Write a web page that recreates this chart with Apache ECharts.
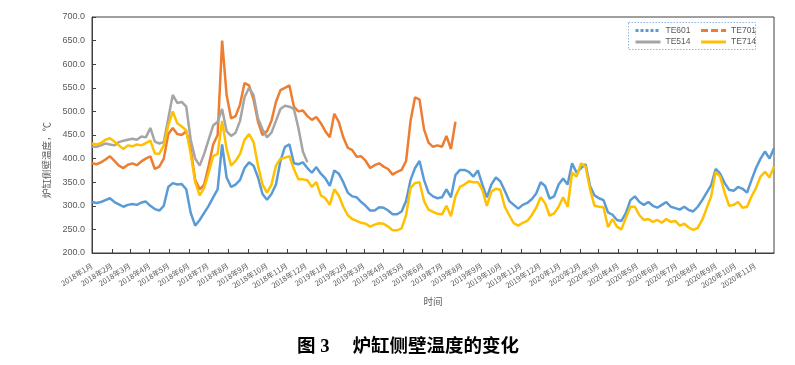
<!DOCTYPE html>
<html><head><meta charset="utf-8">
<script src="https://cdn.jsdelivr.net/npm/echarts@6/dist/echarts.min.js"></script>
<style>html,body{margin:0;padding:0;background:#fff}#c{width:795px;height:365px}</style>
</head><body><div id="c"></div>
<script>
// Daily date axis, values sampled weekly (every 7 days from startDate)
const startDate = '2018-01-01';
const endDate = '2020-11-30';
const sampleStepDays = 7;

const seriesNames = ['TE601', 'TE701', 'TE514', 'TE714'];
const seriesColors = ['#5b9bd5', '#ed7d31', '#a5a5a5', '#ffc000'];

const te601 = [
  308, 306, 308, 312, 316, 308, 303, 298, 302, 304,
  302, 307, 309, 300, 293, 290, 300, 340, 348, 345,
  346, 335, 285, 258, 270, 285, 300, 318, 335, 430,
  360, 340, 345, 355, 380, 392, 385, 360, 325, 313,
  325, 345, 395, 425, 430, 390, 388, 392, 380, 370,
  382, 368, 358, 342, 375, 368, 350, 328, 320, 318,
  308, 300, 290, 290, 297, 296, 290, 282, 282, 288,
  310, 355, 380, 395, 355, 328, 320, 316, 318, 335,
  318, 365, 376, 376, 372, 362, 375, 345, 318, 345,
  360, 352, 332, 310, 302, 294, 302, 306, 314, 326,
  350, 342, 315, 320, 345, 358, 345, 390, 370, 380,
  388, 342, 322, 316, 312, 286, 281, 270, 268, 285,
  312, 320, 308, 302, 308, 300, 296, 302, 308, 298,
  295, 292, 298, 291, 288, 298, 312, 328, 344, 378,
  368, 348, 334, 332, 340, 336, 328, 355, 380, 400,
  415, 400, 422
];
const te701 = [
  390, 388, 392, 398, 405, 395, 385, 380, 387, 390,
  386, 394, 400, 405, 378, 383, 400, 452, 465, 452,
  450, 458, 420, 355, 335, 345, 385, 430, 450, 650,
  535, 485, 490, 515, 560, 555, 525, 478, 450, 458,
  480, 520, 545, 550, 555, 510, 500, 502, 490, 482,
  488, 475, 458, 445, 495, 478, 445, 423, 418, 404,
  405, 395, 380, 386, 390, 383, 378, 366, 372, 376,
  395, 480, 530, 525, 462, 434, 425, 428, 425, 448,
  420, 478
];
const te514 = [
  425, 425, 428, 432, 430, 428, 435, 438, 440, 442,
  440, 447, 445, 465, 436, 432, 435, 485, 535, 518,
  520, 510, 440, 400, 385, 410, 440, 470, 478, 505,
  458, 448, 455, 480, 530, 550, 535, 485, 462, 445,
  455, 480, 505, 512, 510, 505, 465, 415, 392
];
const te714 = [
  432, 430, 433, 440, 443, 436, 428, 420, 428, 426,
  430, 428, 433, 438, 411, 410, 428, 470, 500, 475,
  468, 460, 410, 350, 322, 338, 370, 405, 410, 480,
  420, 385, 395, 410, 440, 452, 435, 385, 345, 328,
  345, 385, 400, 402, 405, 378, 356, 356, 354, 340,
  350, 322, 316, 302, 335, 322, 298, 280, 272, 268,
  264, 262, 256, 260, 263, 262, 256, 248, 248, 252,
  280, 338, 348, 350, 310, 292, 287, 283, 282, 300,
  278, 320, 340, 345, 352, 350, 350, 334, 300, 330,
  336, 334, 298, 280, 263, 258, 264, 268, 280, 296,
  318, 305, 279, 284, 298, 318, 298, 370, 362, 390,
  383, 335, 300, 298, 297, 255, 272, 256, 250, 275,
  298, 298, 280, 270, 272, 266, 270, 264, 272, 266,
  268, 258, 262, 254, 249, 253, 270, 295, 320, 372,
  362, 328, 300, 302, 308, 296, 298, 320, 338, 362,
  372, 360, 383
];
const seriesValues = [te601, te701, te514, te714];

const yMin = 200, yMax = 700, yStep = 50;
const yAxisName = '炉缸侧壁温度，℃';
const xAxisName = '时间';
const chartTitle = '图 3\u3000 炉缸侧壁温度的变化';

function pad(n) { return String(n).padStart(2, '0'); }
function buildDays(a, b) {
  const out = [];
  const p = s => s.split('-').map(Number);
  const [y0, m0, d0] = p(a), [y1, m1, d1] = p(b);
  let t = Date.UTC(y0, m0 - 1, d0);
  const end = Date.UTC(y1, m1 - 1, d1);
  while (t <= end) {
    const d = new Date(t);
    out.push(d.getUTCFullYear() + '-' + pad(d.getUTCMonth() + 1) + '-' + pad(d.getUTCDate()));
    t += 86400000;
  }
  return out;
}
const days = buildDays(startDate, endDate);
const isMonthStart = (i, v) => v.slice(8) === '01';

const chart = echarts.init(document.getElementById('c'), null, { renderer: 'canvas' });
const gray = '#595959';
const axisColor = '#404040';
const hiddenSymbol = { color: 'rgba(0,0,0,0)', borderWidth: 0, opacity: 0 };

chart.setOption({
  animation: false,
  backgroundColor: '#ffffff',
  title: {
    text: chartTitle,
    left: 297, top: 338, padding: 0,
    textStyle: { fontSize: 18.5, fontWeight: 'bold', color: '#000', fontFamily: "'Liberation Serif','Noto Sans CJK SC'" }
  },
  grid: { left: 92, right: 21, top: 17, bottom: 112, show: true, borderColor: axisColor, borderWidth: 1, backgroundColor: 'transparent' },
  legend: [
    {
      left: 634, top: 26, padding: 0, itemWidth: 25, itemHeight: 8, itemGap: 9,
      textStyle: { fontSize: 8.5, color: gray, fontFamily: "'Liberation Sans'" },
      itemStyle: hiddenSymbol,
      data: [
        { name: 'TE601', itemStyle: hiddenSymbol, lineStyle: { type: [3, 2], width: 3 } },
        { name: 'TE701', itemStyle: hiddenSymbol, lineStyle: { type: [7, 3], width: 3 } }
      ]
    },
    {
      left: 634, top: 37.5, padding: 0, itemWidth: 25, itemHeight: 8, itemGap: 9,
      textStyle: { fontSize: 8.5, color: gray, fontFamily: "'Liberation Sans'" },
      itemStyle: hiddenSymbol,
      data: [
        { name: 'TE514', itemStyle: hiddenSymbol, lineStyle: { width: 3 } },
        { name: 'TE714', itemStyle: hiddenSymbol, lineStyle: { width: 3 } }
      ]
    }
  ],
  graphic: [
    { type: 'rect', shape: { x: 628.5, y: 22.5, width: 127, height: 27 },
      style: { fill: null, stroke: '#8db4e2', lineWidth: 1, lineDash: [1.5, 1.5] }, silent: true }
  ],
  xAxis: {
    type: 'category',
    data: days,
    boundaryGap: false,
    name: xAxisName,
    nameLocation: 'middle',
    nameGap: 44,
    nameTextStyle: { fontSize: 9.5, color: gray, fontFamily: "'Noto Sans CJK SC'" },
    axisLine: { lineStyle: { color: axisColor, width: 1 } },
    axisTick: { inside: true, length: 4, interval: isMonthStart, lineStyle: { color: axisColor } },
    axisLabel: {
      interval: isMonthStart,
      rotate: 32,
      margin: 12,
      fontSize: 7.5,
      color: gray,
      fontFamily: "'Noto Sans CJK SC'",
      formatter: v => (+v.slice(0, 4)) + '年' + (+v.slice(5, 7)) + '月'
    },
    splitLine: { show: false }
  },
  yAxis: {
    type: 'value',
    min: yMin, max: yMax, interval: yStep,
    name: yAxisName,
    nameLocation: 'middle',
    nameRotate: 90,
    nameGap: 40,
    nameTextStyle: { fontSize: 9.5, color: gray, fontFamily: "'Noto Sans CJK SC'", padding: [0, 50, 0, 0] },
    axisLine: { show: true, lineStyle: { color: axisColor, width: 1 } },
    axisTick: { show: true, inside: true, length: 4, lineStyle: { color: axisColor } },
    axisLabel: { margin: 7, fontSize: 9, color: gray, fontFamily: "'Liberation Sans'", formatter: v => v.toFixed(1) },
    splitLine: { show: false }
  },
  series: seriesNames.map((name, i) => ({
    name,
    type: 'line',
    symbol: 'none',
    data: seriesValues[i].map((v, k) => [k * sampleStepDays, v]),
    lineStyle: { width: 2.5, color: seriesColors[i] },
    itemStyle: { color: seriesColors[i] },
    emphasis: { disabled: true }
  }))
});
</script></body></html>
